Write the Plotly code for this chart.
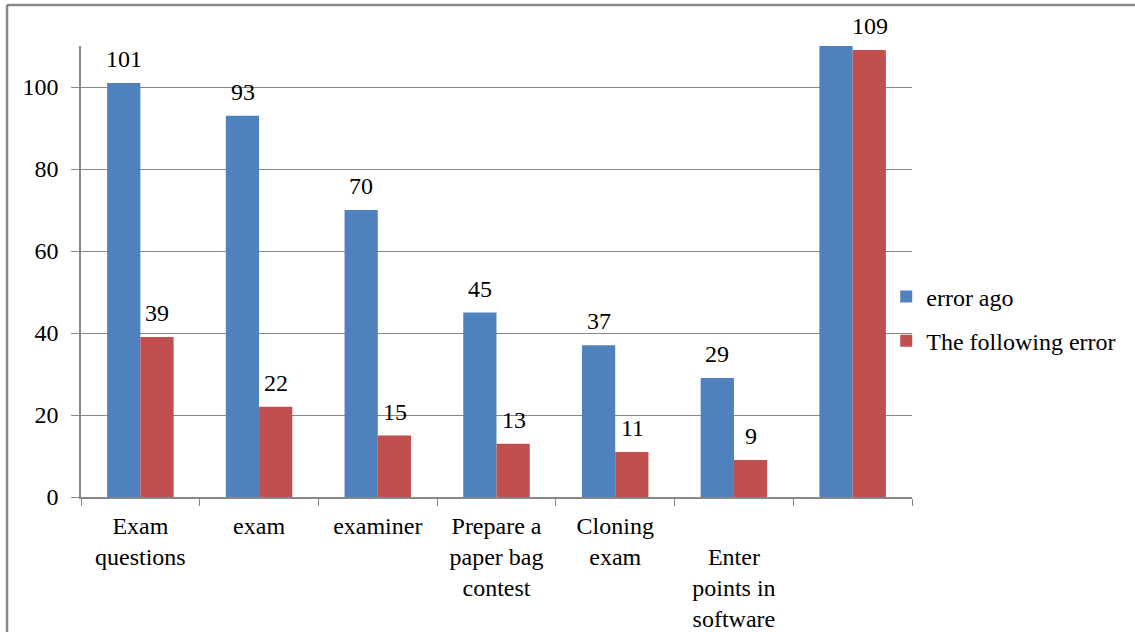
import plotly.graph_objects as go

categories = ["Exam<br>questions", "exam", "examiner", "Prepare a<br>paper bag<br>contest",
              "Cloning<br>exam", "\u00a0<br>Enter<br>points in<br>software", "\u00a0"]
error_ago = [101, 93, 70, 45, 37, 29, 110]
following_error = [39, 22, 15, 13, 11, 9, 109]
ago_labels = ["101", "93", "70", "45", "37", "29", ""]
following_labels = ["39", "22", "15", "13", "11", "9", "109"]
y_ticks = [0, 20, 40, 60, 80, 100]

FONT = "Liberation Serif"
FS = 24

fig = go.Figure()
fig.add_trace(go.Bar(x=categories, y=error_ago, name="error ago", marker_color="#4F81BD",
                     marker_line_width=0, legendgroup="a"))
fig.add_trace(go.Bar(x=categories, y=following_error, name="The following error", marker_color="#C0504D",
                     marker_line_width=0, legendgroup="b"))

# data labels above bars
for series, labels, shift in ((error_ago, ago_labels, -16.5), (following_error, following_labels, 17)):
    for c, v, t in zip(categories, series, labels):
        if t:
            fig.add_annotation(x=c, y=v, text=t, showarrow=False, xshift=shift, yshift=24,
                               yanchor="middle", xanchor="center",
                               font=dict(family=FONT, size=FS, color="#000"))

fig.update_layout(
    width=1135, height=632,
    margin=dict(l=81, r=223, t=46, b=135),
    paper_bgcolor="white", plot_bgcolor="white",
    font=dict(family=FONT, size=FS, color="#000"),
    barmode="group", bargap=0.44, bargroupgap=0,
    legend=dict(x=0.969, y=0.395, xanchor="left", yanchor="middle",
                font=dict(family=FONT, size=FS, color="#000"), tracegroupgap=10, traceorder="grouped",
                bgcolor="rgba(0,0,0,0)"),
    showlegend=True,
)
fig.update_xaxes(showline=True, linecolor="#888", linewidth=1.5, ticks="outside",
                 tickson="boundaries", ticklen=7, tickcolor="#888", showgrid=False,
                 tickfont=dict(family=FONT, size=FS, color="#000"), tickangle=0,
                 ticklabelstandoff=6, automargin=False)
fig.update_yaxes(range=[0, 110], tickvals=y_ticks, showline=True, linecolor="#888", linewidth=1.5,
                 ticks="outside", ticklen=8, tickcolor="#888", showgrid=True, gridcolor="#888",
                 gridwidth=1, zeroline=False, tickfont=dict(family=FONT, size=FS, color="#000"),
                 ticklabelstandoff=8, automargin=False)

# outer chart border (top and left visible)
fig.add_shape(type="line", xref="paper", yref="paper", x0=-0.089, x1=1.3, y0=1.0909, y1=1.0909,
              line=dict(color="#888", width=2.5))
fig.add_shape(type="line", xref="paper", yref="paper", x0=-0.089, x1=-0.089, y0=1.0909, y1=-0.32,
              line=dict(color="#888", width=2.5))

fig.write_html("out.html")
